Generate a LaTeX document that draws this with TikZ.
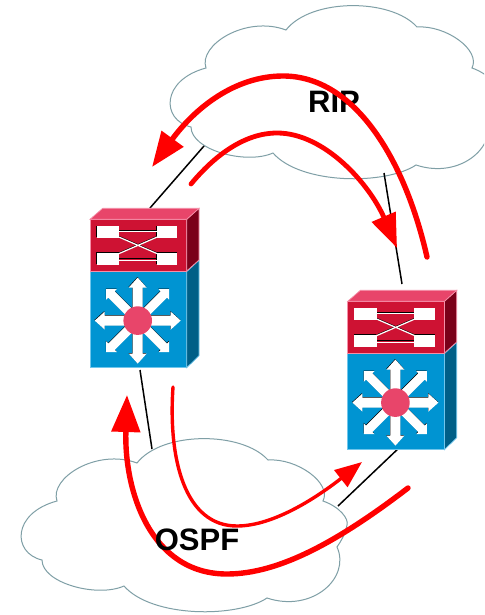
\documentclass[tikz,border=0pt]{standalone}
\usepackage{fontspec}
\setmainfont{Liberation Sans}
\usetikzlibrary{arrows.meta}
\definecolor{cloudline}{HTML}{7F9FA6}
\definecolor{swblue}{HTML}{0094D2}
\definecolor{swbluedark}{HTML}{005F87}
\definecolor{swred}{HTML}{CE1233}
\definecolor{swreddark}{HTML}{7A0019}
\definecolor{swpink}{HTML}{E8456A}
\definecolor{edgeblue}{HTML}{6FC6EC}
\definecolor{edgepink}{HTML}{F58FA8}
\tikzset{
  cloudshape/.style={draw=cloudline,line width=1pt,fill=white},
  link/.style={draw=black,line width=1.5pt},
  flowthick/.style={draw=red,line width=5.4pt,line cap=round},
  flowmid/.style={draw=red,line width=4.8pt,line cap=round},
  flowthin/.style={draw=red,line width=3.4pt,line cap=round},
  labeltext/.style={font=\fontsize{31}{33}\selectfont\bfseries,text=black,inner sep=0pt},
  whitebox/.style={fill=white,draw=none},
  pics/netcloud/.style={code={
    \path[cloudshape] (0,0) .. controls (25,-32) and (105,-32) .. (131,-3)
      .. controls (160,-5) and (195,20) .. (186,38)
      .. controls (203,44) and (212,56) .. (210,62)
      .. controls (208,72) and (204,78) .. (200,84)
      .. controls (214,115) and (175,150) .. (130,135)
      .. controls (100,155) and (15,155) .. (-13,123)
      .. controls (-40,135) and (-95,120) .. (-95,97)
      .. controls (-125,90) and (-125,50) .. (-80,38)
      .. controls (-88,15) and (-40,-15) .. (0,0) -- cycle;
  }},
  pics/l3switch/.style={code={
    \fill[swblue,draw=edgeblue,line width=0.7pt] (0,52.4) rectangle (96.7,148.4);
    \fill[swbluedark,draw=edgeblue,line width=0.7pt] (96.7,52.4) -- (109,41) -- (109,136.4) -- (96.7,148.4) -- cycle;
    \fill[swred,draw=edgepink,line width=0.7pt] (0,0) rectangle (96.7,51.7);
    \fill[swreddark,draw=edgepink,line width=0.7pt] (96.7,0) -- (109,-11) -- (109,40.7) -- (96.7,51.7) -- cycle;
    \fill[swpink,draw=edgepink,line width=0.7pt] (0,0) -- (12.7,-11) -- (109,-11) -- (96.7,0) -- cycle;
    % crossbar ports
    \fill[black] (6.3,6.2) rectangle (28.5,18);
    \fill[black] (66.3,6.2) rectangle (86.8,18);
    \fill[black] (6.3,32.8) rectangle (28.5,44.7);
    \fill[black] (66.3,32.8) rectangle (86.8,44.7);
    \draw[black,line width=0.8pt] (29,11) -- (67,11) (29,39.5) -- (67,39.5);
    \draw[black,line width=0.8pt] (29,17) -- (67,33.5) (29,33.5) -- (67,17);
    \draw[white,line width=1.2pt] (29,12.3) -- (67,12.3) (29,40.8) -- (67,40.8);
    \draw[white,line width=1.2pt] (29,17.8) -- (67,34.3) (29,34.3) -- (67,17.8);
    \path[whitebox] (6.7,6.7) rectangle (29,19);
    \path[whitebox] (66.7,6.7) rectangle (87.3,19);
    \path[whitebox] (6.7,33.3) rectangle (29,45.7);
    \path[whitebox] (66.7,33.3) rectangle (87.3,45.7);
    % radiating arrows
    \foreach \ang in {0,90,180,270} {
      \fill[black,shift={(47.4,100.7)},rotate=\ang] (10,-5) -- (33,-5) -- (33,-9) -- (43,0) -- (33,9) -- (33,5) -- (10,5) -- cycle;
    }
    \foreach \ang in {45,135,225,315} {
      \fill[black,shift={(47.4,100.7)},rotate=\ang] (10,-4.5) -- (37,-4.5) -- (37,-7.5) -- (44.5,0) -- (37,7.5) -- (37,4.5) -- (10,4.5) -- cycle;
    }
    \foreach \ang in {0,90,180,270} {
      \fill[white,shift={(47.7,101.3)},rotate=\ang] (10,-5) -- (33,-5) -- (33,-9) -- (43,0) -- (33,9) -- (33,5) -- (10,5) -- cycle;
    }
    \foreach \ang in {45,135,225,315} {
      \fill[white,shift={(47.7,101.3)},rotate=\ang] (10,-4.5) -- (37,-4.5) -- (37,-7.5) -- (44.5,0) -- (37,7.5) -- (37,4.5) -- (10,4.5) -- cycle;
    }
    \fill[swpink] (47.7,101.3) circle (14.3);
  }}
}
\begin{document}
\begin{tikzpicture}[x=1pt,y=-1pt]
\useasboundingbox (0,0) rectangle (484,615);
\clip (0,0) rectangle (484,615);
\fill[white] (0,0) rectangle (484,615);

\pic at (286,30) {netcloud};
\pic at (137,463) {netcloud};

\coordinate (cloudtopA) at (204,146);
\coordinate (cloudtopB) at (384,173);
\coordinate (cloudlowA) at (152,449);
\coordinate (cloudlowB) at (338,506);
\coordinate (swAtop) at (150,208);
\coordinate (swAbot) at (140,370);
\coordinate (swBtop) at (402,284);
\coordinate (swBbot) at (401,446);

\draw[link] (cloudtopA) -- (swAtop);
\draw[link] (cloudtopB) -- (swBtop);
\draw[link] (swAbot) -- (cloudlowA);
\draw[link] (swBbot) -- (cloudlowB);

\pic at (90,219.3) {l3switch};
\pic at (347.7,301.3) {l3switch};

\node[labeltext] (riplabel) at (334,102) {RIP};

\coordinate (a0) at (427,257);
\coordinate (a1) at (283,76);
\coordinate (a2) at (152,167);
\coordinate (b0) at (191,184);
\coordinate (b1) at (277,133);
\coordinate (b2) at (397,248);
\coordinate (c0) at (408,488);
\coordinate (c1) at (227,574);
\coordinate (c2) at (127,395);
\coordinate (d0) at (173,387);
\coordinate (d1) at (237,526);
\coordinate (d2) at (362,462);

\draw[flowthick,-{Triangle[length=35pt,width=26pt]}] (a0) .. controls (405,160) and (355,76) .. (a1) .. controls (235,76) and (195,108) .. (a2);
\draw[flowmid,-{Triangle[length=34pt,width=25pt]}] (b0) .. controls (215,155) and (245,133) .. (b1) .. controls (325,133) and (370,185) .. (b2);
\draw[flowthick,-{Triangle[length=37pt,width=28pt]}] (c0) .. controls (340,540) and (280,574) .. (c1) .. controls (150,574) and (124,490) .. (c2);
\draw[flowthin,-{Triangle[length=27pt,width=21pt]}] (d0) .. controls (168,460) and (185,526) .. (d1) .. controls (275,526) and (320,495) .. (d2);

\node[labeltext] (ospflabel) at (197,540) {OSPF};
\end{tikzpicture}
\end{document}
